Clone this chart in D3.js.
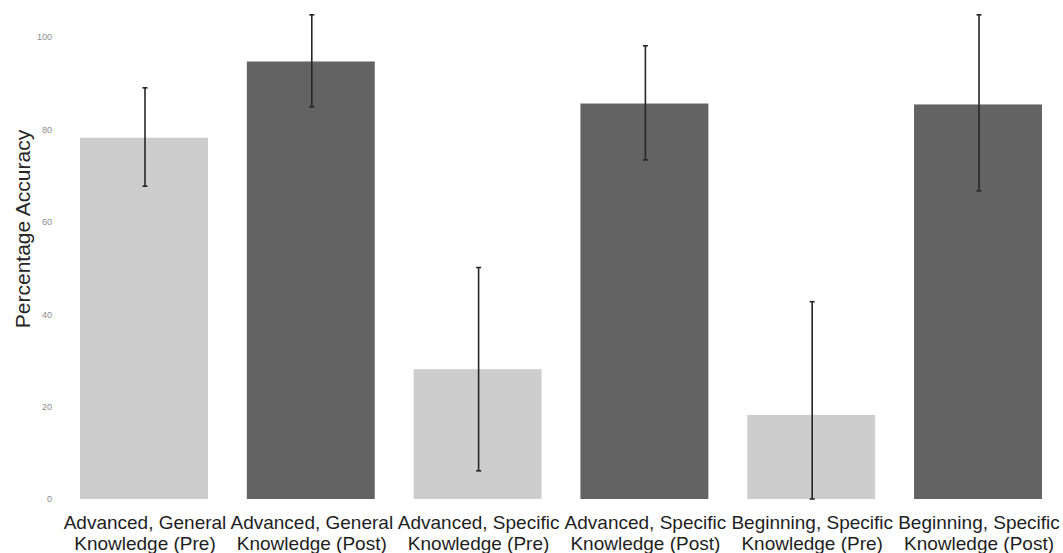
<!DOCTYPE html>
<html>
<head>
<meta charset="utf-8">
<script src="https://cdn.jsdelivr.net/npm/d3@7/dist/d3.min.js"></script>
<style>
  html, body { margin: 0; padding: 0; background: #fff; }
  svg { display: block; }
</style>
</head>
<body>
<svg id="chart" width="1063" height="553"></svg>
<script>
const categoriesLine1 = ["Advanced, General", "Advanced, General", "Advanced, Specific", "Advanced, Specific", "Beginning, Specific", "Beginning, Specific"];
const categoriesLine2 = ["Knowledge (Pre)", "Knowledge (Post)", "Knowledge (Pre)", "Knowledge (Post)", "Knowledge (Pre)", "Knowledge (Post)"];
const phase = ["Pre", "Post", "Pre", "Post", "Pre", "Post"];
const means = [78.2, 94.7, 28.1, 85.6, 18.2, 85.4];
const errUpper = [89.0, 104.8, 50.1, 98.1, 42.7, 104.8];
const errLower = [67.7, 84.9, 6.1, 73.4, 0, 66.7];
const yTicks = [0, 20, 40, 60, 80, 100];
const yTitle = "Percentage Accuracy";

const svg = d3.select("#chart");
const ids = d3.range(means.length);

const x = d3.scaleBand().domain(ids).range([60.6, 1061.4]).paddingInner(0.233).paddingOuter(0.1165);
const y = d3.scaleLinear().domain([0, 100]).range([499, 37]);
const color = d3.scaleOrdinal().domain(["Pre", "Post"]).range(["#cdcdcd", "#636363"]);

// bars
svg.append("g").selectAll("rect").data(ids).join("rect")
  .attr("x", i => x(i))
  .attr("y", i => y(means[i]))
  .attr("width", x.bandwidth())
  .attr("height", i => y(0) - y(means[i]))
  .attr("fill", i => color(phase[i]));

// error bars
const eb = svg.append("g").attr("stroke", "#262626").attr("fill", "none");
ids.forEach(i => {
  const cx = x(i) + x.bandwidth() / 2 + 1;
  eb.append("line").attr("x1", cx).attr("x2", cx)
    .attr("y1", y(errUpper[i])).attr("y2", y(errLower[i])).attr("stroke-width", 1.6);
  [errUpper[i], errLower[i]].forEach(v => {
    eb.append("line").attr("x1", cx - 2.5).attr("x2", cx + 2.5)
      .attr("y1", y(v)).attr("y2", y(v)).attr("stroke-width", 1.6);
  });
});

// y axis
const yAxis = svg.append("g").attr("transform", "translate(54,0)")
  .call(d3.axisLeft(y).tickValues(yTicks).tickSize(0).tickPadding(2));
yAxis.select(".domain").remove();
yAxis.selectAll("text").attr("font-family", "Liberation Sans, Arial, sans-serif")
  .attr("font-size", 9).attr("fill", "#8a8a8a");

// y title
svg.append("text")
  .attr("transform", "translate(30,229) rotate(-90)")
  .attr("text-anchor", "middle")
  .attr("font-family", "Liberation Sans, Arial, sans-serif")
  .attr("font-size", 21)
  .attr("fill", "#262626")
  .text(yTitle);

// x labels
const xl = svg.append("g").attr("font-family", "Liberation Sans, Arial, sans-serif")
  .attr("font-size", 19).attr("fill", "#1e1e1e").attr("text-anchor", "middle");
ids.forEach(i => {
  const cx = x(i) + x.bandwidth() / 2 + 1;
  const t = xl.append("text");
  t.append("tspan").attr("x", cx).attr("y", 529).text(categoriesLine1[i]);
  t.append("tspan").attr("x", cx).attr("y", 550).text(categoriesLine2[i]);
});
</script>
</body>
</html>
